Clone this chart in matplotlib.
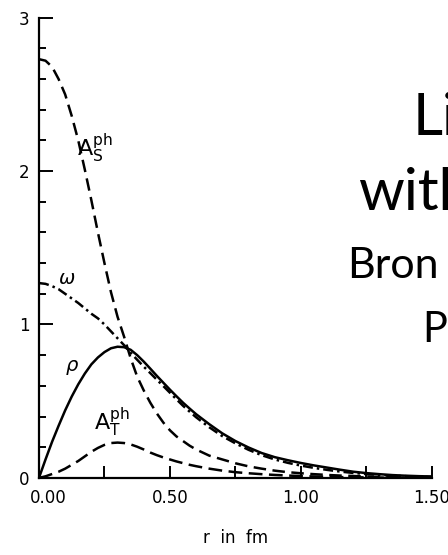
import numpy as np
import matplotlib
matplotlib.use('Agg')
import matplotlib.pyplot as plt
import matplotlib.transforms as mtransforms
from matplotlib.ticker import MultipleLocator

# radial grid (fm) and curves
r = [0.0, 0.025, 0.05, 0.075, 0.1, 0.125, 0.15, 0.175, 0.2, 0.225, 0.25,
     0.275, 0.3, 0.325, 0.35, 0.375, 0.4, 0.425, 0.45, 0.475, 0.5,
     0.525, 0.55, 0.575, 0.6, 0.65, 0.7, 0.75, 0.8, 0.85, 0.9, 0.95,
     1.0, 1.05, 1.1, 1.15, 1.2, 1.25, 1.3, 1.35, 1.4, 1.45, 1.5]

a_s = [2.73, 2.72, 2.68, 2.60, 2.50, 2.36, 2.20, 2.01, 1.81, 1.60, 1.40,
       1.21, 1.05, 0.92, 0.78, 0.66, 0.57, 0.49, 0.42, 0.36, 0.31,
       0.27, 0.24, 0.21, 0.185, 0.145, 0.12, 0.095, 0.075, 0.06, 0.047, 0.037,
       0.03, 0.024, 0.019, 0.015, 0.012, 0.009, 0.007, 0.005, 0.004, 0.003, 0.002]
omega = [1.27, 1.265, 1.25, 1.23, 1.20, 1.17, 1.14, 1.105, 1.07, 1.04, 1.00,
         0.955, 0.91, 0.865, 0.815, 0.77, 0.725, 0.683, 0.64, 0.598, 0.555,
         0.512, 0.47, 0.432, 0.395, 0.33, 0.272, 0.225, 0.183, 0.148, 0.12, 0.098,
         0.08, 0.065, 0.052, 0.041, 0.032, 0.025, 0.019, 0.014, 0.011, 0.008, 0.006]
rho = [0.0, 0.12, 0.235, 0.34, 0.44, 0.53, 0.61, 0.68, 0.74, 0.785, 0.82,
       0.845, 0.855, 0.852, 0.835, 0.80, 0.758, 0.712, 0.665, 0.62, 0.575,
       0.532, 0.49, 0.452, 0.415, 0.35, 0.29, 0.24, 0.198, 0.162, 0.135, 0.115,
       0.097, 0.081, 0.067, 0.053, 0.04, 0.031, 0.024, 0.018, 0.014, 0.011, 0.009]
a_t = [0.0, 0.01, 0.025, 0.04, 0.06, 0.085, 0.11, 0.14, 0.17, 0.195, 0.215,
       0.227, 0.23, 0.227, 0.218, 0.203, 0.185, 0.165, 0.148, 0.133, 0.12,
       0.107, 0.096, 0.085, 0.076, 0.06, 0.047, 0.037, 0.03, 0.024, 0.019, 0.015,
       0.012, 0.009, 0.007, 0.005, 0.004, 0.003, 0.002, 0.001, 0.001, 0.0, 0.0]

xticks = [0.0, 0.5, 1.0, 1.5]
xticklabels = ['0.00', '0.50', '1.00', '1.50']
yticks = [0, 1, 2, 3]

fig = plt.figure(figsize=(4.48, 5.55), dpi=100)
ax = fig.add_axes([0.087, 0.139, 0.877, 0.829])

lw = 1.8
ax.plot(r, a_s, color='black', lw=lw, dashes=(5, 2.6))
ax.plot(r, omega, color='black', lw=lw, dashes=(4, 1.6, 1, 1.6))
ax.plot(r, rho, color='black', lw=lw)
ax.plot(r, a_t, color='black', lw=lw, dashes=(5.5, 2.6))

ax.text(0.214, 2.15, r'$\mathrm{A}_\mathrm{S}^\mathrm{ph}$', fontsize=16, ha='center', va='center')
ax.text(0.107, 1.30, r'$\omega$', fontsize=14, ha='center', va='center')
ax.text(0.126, 0.72, r'$\rho$', fontsize=14, ha='center', va='center')
ax.text(0.28, 0.36, r'$\mathrm{A}_\mathrm{T}^\mathrm{ph}$', fontsize=16, ha='center', va='center')

ax.set_xlim(0, 1.5)
ax.set_ylim(0, 3)
ax.spines['top'].set_visible(False)
ax.spines['right'].set_visible(False)
ax.spines['left'].set_linewidth(1.6)
ax.spines['bottom'].set_linewidth(1.6)

ax.set_xticks(xticks)
ax.set_xticklabels(xticklabels)
ax.xaxis.set_minor_locator(MultipleLocator(0.25))
ax.set_yticks(yticks)
ax.set_yticklabels([str(v) for v in yticks])
ax.yaxis.set_minor_locator(MultipleLocator(0.2))
ax.tick_params(axis='both', which='both', direction='in', width=1.4, labelsize=12)
ax.tick_params(axis='x', which='major', length=9, pad=8)
ax.tick_params(axis='x', which='minor', length=9)
ax.tick_params(axis='y', which='major', length=10, pad=7)
ax.tick_params(axis='y', which='minor', length=5)
ax.set_xlabel('r  in  fm', fontsize=12, labelpad=16)

# the 0.00 label sits a little right of its tick, as in the scan
lab0 = ax.get_xticklabels()[0]
lab0.set_transform(lab0.get_transform() + mtransforms.ScaledTranslation(9 / 100, 0, fig.dpi_scale_trans))

# clipped slide title text on the right
fig.text(413 / 448, 1 - 135 / 555, 'Li', fontsize=42, family='Lato', ha='left', va='baseline')
fig.text(358 / 448, 1 - 210 / 555, 'with', fontsize=42, family='Lato', ha='left', va='baseline')
fig.text(347 / 448, 1 - 278 / 555, 'Bron', fontsize=31, family='Lato', ha='left', va='baseline')
fig.text(422 / 448, 1 - 342 / 555, 'P', fontsize=30, family='Lato', ha='left', va='baseline')

fig.savefig('out.png', dpi=100)
